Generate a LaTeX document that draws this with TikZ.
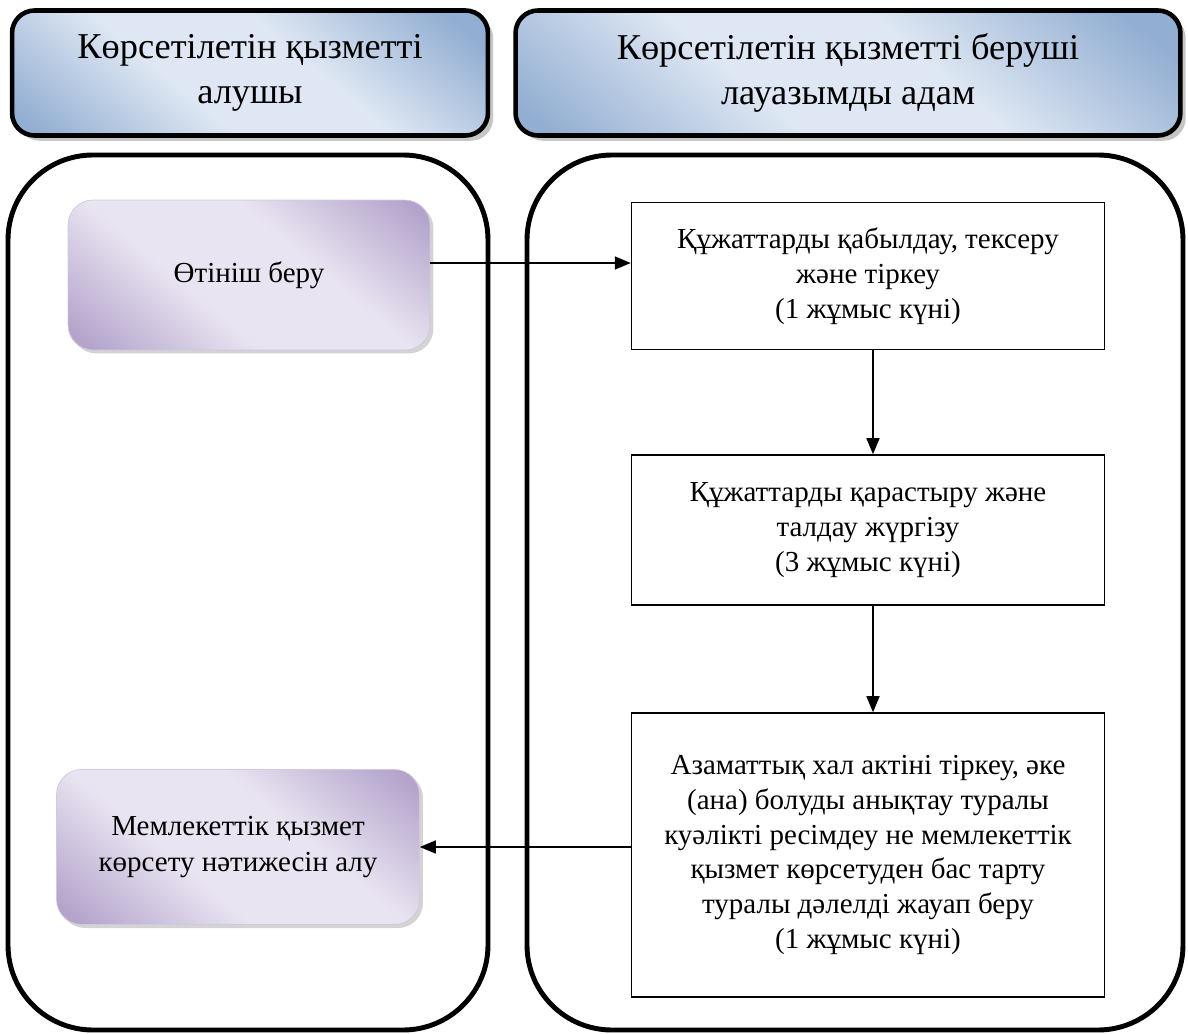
\documentclass[tikz,border=0pt]{standalone}
\usepackage{fontspec}
\setmainfont{Liberation Serif}
\usepackage{tikz}
\usetikzlibrary{positioning,shapes,arrows.meta,shadows}

\definecolor{hdrdark}{RGB}{146,174,210}
\definecolor{hdrlight}{RGB}{222,231,243}
\definecolor{purdark}{RGB}{180,164,204}
\definecolor{purlight}{RGB}{233,228,241}

\pgfdeclareverticalshading{hdrshade}{100bp}{color(0bp)=(hdrdark); color(18bp)=(hdrdark); color(40bp)=(hdrlight); color(58bp)=(hdrlight); color(80bp)=(hdrdark); color(100bp)=(hdrdark)}
\pgfdeclareverticalshading{purshade}{100bp}{color(0bp)=(purdark); color(18bp)=(purdark); color(40bp)=(purlight); color(60bp)=(purlight); color(82bp)=(purdark); color(100bp)=(purdark)}

\tikzset{
  header/.style={draw,line width=2.6pt,rounded corners=0.45cm,shading=hdrshade,shading angle=-40,
    drop shadow={opacity=0.45,shadow xshift=3pt,shadow yshift=-3pt},
    align=center,font=\fontsize{20.7}{26}\selectfont},
  lane/.style={draw,line width=2.8pt,rounded corners=1.7cm},
  actor/.style={rounded corners=0.5cm,shading=purshade,shading angle=-40,
    draw=purdark!60,
    drop shadow={opacity=0.35,shadow xshift=2pt,shadow yshift=-2pt},
    align=center,font=\fontsize{16.5}{20}\selectfont},
  stepbox/.style={draw,line width=0.9pt,minimum width=9.46cm,align=center,
    font=\fontsize{16.5}{19.8}\selectfont},
  arr/.style={-{Triangle[length=0.32cm,width=0.26cm]},line width=0.9pt}
}

\begin{document}
\begin{tikzpicture}[x=0.02cm,y=-0.02cm]
  \useasboundingbox (0,0) rectangle (1188,1034);

  % headers
  \node[header,minimum width=9.52cm,minimum height=2.5cm] (hdrL) at (250,73)
    {Көрсетілетін қызметті\\алушы};
  \node[header,minimum width=13.3cm,minimum height=2.5cm] (hdrR) at (848,73)
    {Көрсетілетін қызметті беруші\\лауазымды адам};

  % lanes
  \draw[lane] (8,155) rectangle (488,1030);
  \draw[lane] (527,155) rectangle (1183,1030);

  % service receiver
  \node[actor,minimum width=7.24cm,minimum height=3cm] (otin) at (249,275) {Өтініш беру};
  \node[actor,minimum width=7.26cm,minimum height=3.1cm] (mem) at (238,847)
    {Мемлекеттік қызмет\\көрсету нәтижесін алу};

  % service provider
  \node[stepbox,minimum height=2.94cm] (b1) at (868,276)
    {Құжаттарды қабылдау, тексеру\\және тіркеу\\(1 жұмыс күні)};
  \node[stepbox,minimum height=3cm] (b2) at (868,530)
    {Құжаттарды қарастыру және\\талдау жүргізу\\(3 жұмыс күні)};
  \node[stepbox,minimum height=5.68cm] (b3) at (868,855)
    {Азаматтық хал актіні тіркеу, әке\\(ана) болуды анықтау туралы\\куәлікті ресімдеу не мемлекеттік\\қызмет көрсетуден бас тарту\\туралы дәлелді жауап беру\\(1 жұмыс күні)};

  \draw[arr] ([yshift=0.24cm]otin.east) -- ([yshift=0.24cm]otin.east -| b1.west);
  \draw[arr] ([xshift=0.1cm]b1.south) -- ([xshift=0.1cm]b2.north);
  \draw[arr] ([xshift=0.1cm]b2.south) -- ([xshift=0.1cm]b3.north);
  \draw[arr] (mem.east -| b3.west) -- (mem.east);
\end{tikzpicture}
\end{document}
